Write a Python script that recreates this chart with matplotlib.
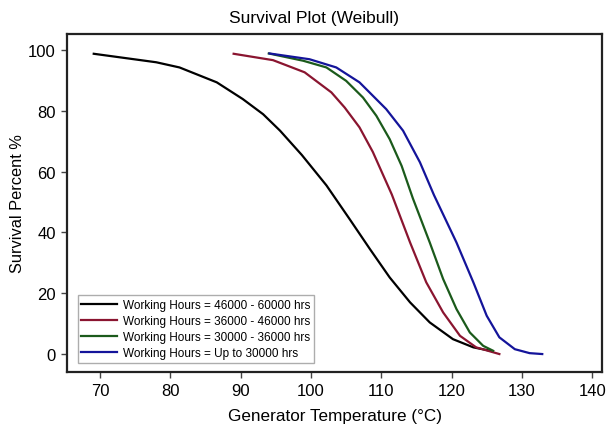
import matplotlib
matplotlib.use("Agg")
import matplotlib.pyplot as plt

plt.rcParams['font.family'] = ['Liberation Sans', 'DejaVu Sans']

labels = ["Working Hours = 46000 - 60000 hrs",
          "Working Hours = 36000 - 46000 hrs",
          "Working Hours = 30000 - 36000 hrs",
          "Working Hours = Up to 30000 hrs"]

black_t = [69.1, 78.0, 81.3, 86.6, 90.3, 93.2, 95.6, 98.7, 102.2, 105.5, 108.4, 111.2, 114.1, 116.9, 120.2, 123.1, 125.9]
black_s = [98.8, 96.0, 94.3, 89.4, 83.9, 78.9, 73.5, 65.5, 55.5, 44.4, 34.5, 25.2, 17.0, 10.4, 4.9, 2.2, 0.9]

red_t = [89.0, 94.6, 99.1, 101.0, 102.9, 104.8, 106.9, 108.8, 111.5, 114.1, 116.4, 118.8, 121.2, 123.5, 126.8]
red_s = [98.8, 96.7, 92.7, 89.4, 86.1, 81.1, 74.6, 66.5, 52.5, 36.7, 23.6, 13.7, 6.0, 2.2, 0.0]

green_t = [94.0, 98.9, 102.2, 105.0, 107.4, 109.3, 111.2, 112.9, 114.5, 116.9, 118.8, 120.7, 122.6, 124.5, 125.9]
green_s = [98.9, 96.5, 94.3, 89.9, 84.4, 78.4, 70.7, 61.9, 51.2, 36.7, 24.7, 14.8, 7.1, 2.7, 1.1]

blue_t = [94.1, 99.8, 103.6, 106.9, 110.7, 113.1, 115.5, 117.5, 120.7, 123.1, 125.0, 126.8, 129.0, 131.1, 132.9]
blue_s = [98.9, 97.0, 94.3, 89.4, 80.6, 73.5, 63.1, 52.3, 36.7, 23.6, 12.6, 5.5, 1.6, 0.3, 0.0]

colors = ['#000000', '#8a1530', '#1b5a1b', '#14149a']

fig = plt.figure(figsize=(6.06, 4.27), dpi=100)
ax = fig.add_axes([0.1106, 0.1265, 0.8828, 0.7915])

for t, s, c, lab in zip([black_t, red_t, green_t, blue_t],
                        [black_s, red_s, green_s, blue_s], colors, labels):
    ax.plot(t, s, color=c, lw=1.6, label=lab)

ax.set_xlim(65.3, 141.4)
ax.set_ylim(-5.9, 105.3)
ax.set_xticks([70, 80, 90, 100, 110, 120, 130, 140])
ax.set_yticks([0, 20, 40, 60, 80, 100])
ax.tick_params(axis='both', labelsize=12, direction='out', length=4, width=1,
               color='#444444', pad=4)
for sp in ax.spines.values():
    sp.set_linewidth(1.6)
    sp.set_color('#222222')

ax.set_xlabel("Generator Temperature (°C)", fontsize=12.3, labelpad=7)
ax.set_ylabel("Survival Percent %", fontsize=11.8, labelpad=2)
fig.text(314 / 606, 1 - 23 / 427, "Survival Plot (Weibull)", fontsize=12.5,
         ha='center', va='baseline')

leg = ax.legend(loc='lower left', bbox_to_anchor=(0.02, 0.027), fontsize=8.5,
                frameon=True, fancybox=False, edgecolor='#999999',
                handlelength=3.0, handletextpad=0.55, labelspacing=0.35,
                borderpad=0.3, borderaxespad=0.0)
leg.get_frame().set_linewidth(1.0)

fig.savefig("out.png", dpi=100)
